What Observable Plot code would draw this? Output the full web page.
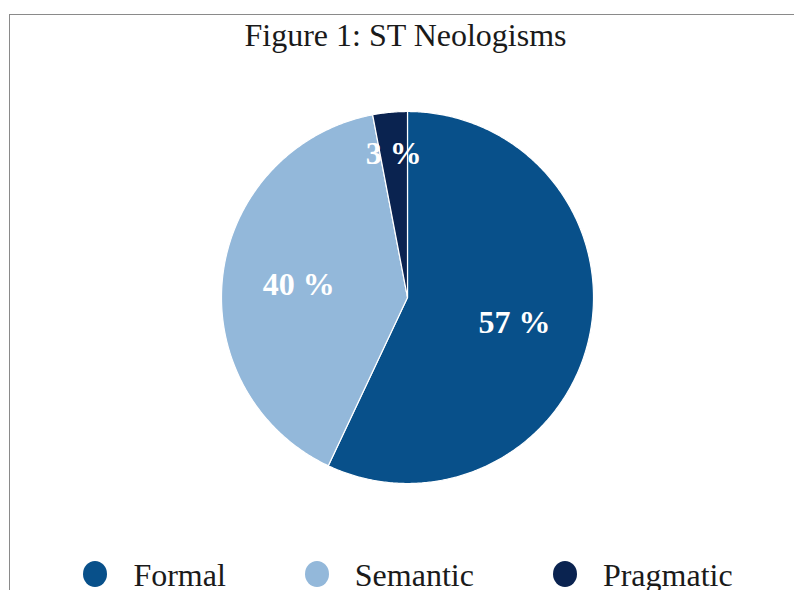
<!DOCTYPE html>
<html>
<head>
<meta charset="utf-8">
<script src="https://cdn.jsdelivr.net/npm/d3@7"></script>
<script src="https://cdn.jsdelivr.net/npm/@observablehq/plot@0.6"></script>
<style>
  html, body { margin: 0; padding: 0; background: #fff; }
  #wrap { position: relative; width: 794px; height: 590px; overflow: hidden; background: #fff; }
  #border { position: absolute; left: 9px; top: 14px; width: 800px; height: 600px;
            border-top: 1px solid #8a8a8a; border-left: 1px solid #8a8a8a; }
  #title { position: absolute; left: 0; top: 20px; width: 811px; text-align: center;
           font-family: "Liberation Serif", "Times New Roman", serif; font-size: 32px; line-height: 31px; color: #1a1a1a; }
  #chart { position: absolute; left: 0; top: 0; }
  #legend { position: absolute; left: 0; top: 559px; width: 816px; display: flex; justify-content: center;
            gap: 79px; font-family: "Liberation Serif", "Times New Roman", serif; font-size: 32px; line-height: 32px; color: #1a1a1a; }
  .item { display: flex; align-items: center; }
  .sw { width: 24px; height: 26px; border-radius: 50%; margin-right: 26px; margin-top: -3px; }
</style>
</head>
<body>
<div id="wrap">
  <div id="border"></div>
  <div id="title"></div>
  <div id="chart"></div>
  <div id="legend"></div>
</div>
<script>
const titleText = "Figure 1: ST Neologisms";
const categories = ["Formal", "Semantic", "Pragmatic"];
const values = [57, 40, 3];
const colors = ["#08508a", "#93b8da", "#0a2350"];

document.getElementById("title").textContent = titleText;

// pie geometry from data (clockwise from 12 o'clock)
const arcs = d3.pie().sort(null).value(d => d)(values);
const slices = arcs.map((a, i) => {
  const pts = [{x: 0, y: 0}];
  const n = Math.max(2, Math.ceil((a.endAngle - a.startAngle) / (Math.PI / 360)));
  for (let k = 0; k <= n; k++) {
    const t = a.startAngle + (a.endAngle - a.startAngle) * k / n;
    pts.push({x: Math.sin(t), y: Math.cos(t)});
  }
  pts.push({x: 0, y: 0});
  return {cat: categories[i], pts};
});
const labels = arcs.map((a, i) => {
  const mid = (a.startAngle + a.endAngle) / 2;
  const rf = values[i] < 5 ? 0.78 : 0.59;
  return {x: rf * Math.sin(mid), y: rf * Math.cos(mid), text: values[i] + " %"};
});

const W = 794, H = 540;
const plot = Plot.plot({
  width: W, height: H,
  marginLeft: 221, marginRight: 201, marginTop: 111, marginBottom: 57,
  x: {domain: [-1, 1], axis: null},
  y: {domain: [-1, 1], axis: null},
  style: {background: "transparent", overflow: "visible"},
  marks: [
    ...slices.map((s, i) => Plot.line(s.pts, {x: "x", y: "y", fill: colors[i], stroke: "white", strokeWidth: 1.2, strokeLinejoin: "round"})),
    Plot.text(labels, {x: "x", y: "y", text: "text", fill: "white", fontSize: 32, fontWeight: "bold", dy: 1,
      fontFamily: "Liberation Serif, Times New Roman, serif"})
  ]
});
document.getElementById("chart").appendChild(plot);

const legend = document.getElementById("legend");
categories.forEach((c, i) => {
  const it = document.createElement("div");
  it.className = "item";
  const sw = document.createElement("span");
  sw.className = "sw";
  sw.style.background = colors[i];
  const tx = document.createElement("span");
  tx.textContent = c;
  it.appendChild(sw); it.appendChild(tx);
  legend.appendChild(it);
});
</script>
</body>
</html>
